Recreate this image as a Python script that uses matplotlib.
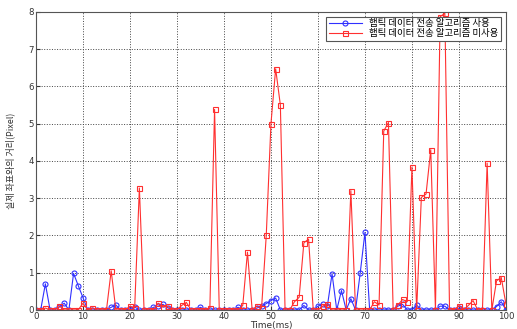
import numpy as np
import matplotlib
matplotlib.use("Agg")
import matplotlib.pyplot as plt

plt.rcParams['font.family'] = ['Noto Sans CJK KR', 'DejaVu Sans']

# time axis (ms)
t = np.arange(0, 101)

# 햅틱 데이터 전송 알고리즘 사용 (blue)
used = [0, 0, 0.7, 0, 0, 0.08, 0.18, 0, 0.98, 0.65,
        0.33, 0, 0, 0, 0, 0, 0.07, 0.13, 0, 0,
        0.03, 0.08, 0, 0, 0, 0.07, 0.1, 0.15, 0.06, 0,
        0, 0, 0, 0, 0, 0.07, 0, 0, 0, 0,
        0, 0, 0, 0.07, 0, 0, 0, 0.05, 0.1, 0.17,
        0.25, 0.32, 0, 0, 0, 0, 0, 0.12, 0, 0,
        0.1, 0.15, 0.1, 0.97, 0, 0.52, 0, 0.3, 0, 1.0,
        2.08, 0, 0, 0, 0, 0, 0, 0.1, 0.15, 0,
        0, 0.13, 0, 0, 0, 0, 0.1, 0.1, 0, 0,
        0.05, 0, 0, 0, 0, 0, 0, 0, 0.09, 0.22,
        0]

# 햅틱 데이터 전송 알고리즘 미사용 (red)
unused = [0, 0, 0.05, 0, 0, 0.1, 0, 0, 0, 0,
          0.18, 0, 0.05, 0, 0, 0, 1.05, 0, 0, 0,
          0.1, 0.05, 3.27, 0, 0, 0, 0.18, 0.08, 0.1, 0,
          0, 0.12, 0.2, 0, 0, 0, 0, 0.05, 5.38, 0,
          0, 0, 0, 0, 0.12, 1.55, 0, 0.1, 0.05, 2.0,
          5.0, 6.47, 5.5, 0, 0, 0.22, 0.34, 1.8, 1.9, 0,
          0, 0.1, 0.16, 0, 0, 0, 0, 3.2, 0, 0,
          0, 0, 0.22, 0.13, 4.8, 5.03, 0, 0.13, 0.28, 0.22,
          3.83, 0, 3.02, 3.11, 4.3, 0, 7.87, 7.96, 0, 0,
          0.11, 0, 0.12, 0.25, 0, 0, 3.94, 0, 0.78, 0.87,
          0.16]

labels = ['햅틱 데이터 전송 알고리즘 사용', '햅틱 데이터 전송 알고리즘 미사용']

fig = plt.figure(figsize=(5.17, 3.29), dpi=100)
ax = fig.add_axes([0.0696, 0.058, 0.909, 0.906])

ax.plot(t, used, color='#3030ff', lw=0.8, marker='o', ms=3.6,
        mfc='none', mec='#3030ff', mew=0.8, label=labels[0])
ax.plot(t, unused, color='#ff3030', lw=0.8, marker='s', ms=3.6,
        mfc='none', mec='#ff3030', mew=0.8, label=labels[1])

ax.set_xlim(0, 100)
ax.set_ylim(0, 8)
ax.set_xticks(range(0, 101, 10))
ax.set_yticks(range(0, 9))
ax.tick_params(direction='in', labelsize=6.2, colors='#333333', length=3, pad=1.5)
for lb in ax.get_xticklabels() + ax.get_yticklabels():
    lb.set_family('DejaVu Sans')
ax.grid(True, linestyle=':', color='#444444', lw=0.7)
for s in ax.spines.values():
    s.set_color('#555555')
    s.set_linewidth(0.8)

ax.set_xlabel('Time(ms)', fontsize=6.5, color='#333333', family='DejaVu Sans')
ax.xaxis.set_label_coords(0.5, -0.036)
ax.set_ylabel('실제 좌표와의 거리(Pixel)', fontsize=6.5, color='#333333')
ax.yaxis.set_label_coords(-0.045, 0.5)

leg = ax.legend(loc='upper right', fontsize=6.8, fancybox=False,
                framealpha=1, edgecolor='#555555', borderpad=0.3,
                handlelength=3.5, labelspacing=0.1, borderaxespad=0.5)
leg.get_frame().set_linewidth(0.8)

fig.savefig('out.png', dpi=100)
